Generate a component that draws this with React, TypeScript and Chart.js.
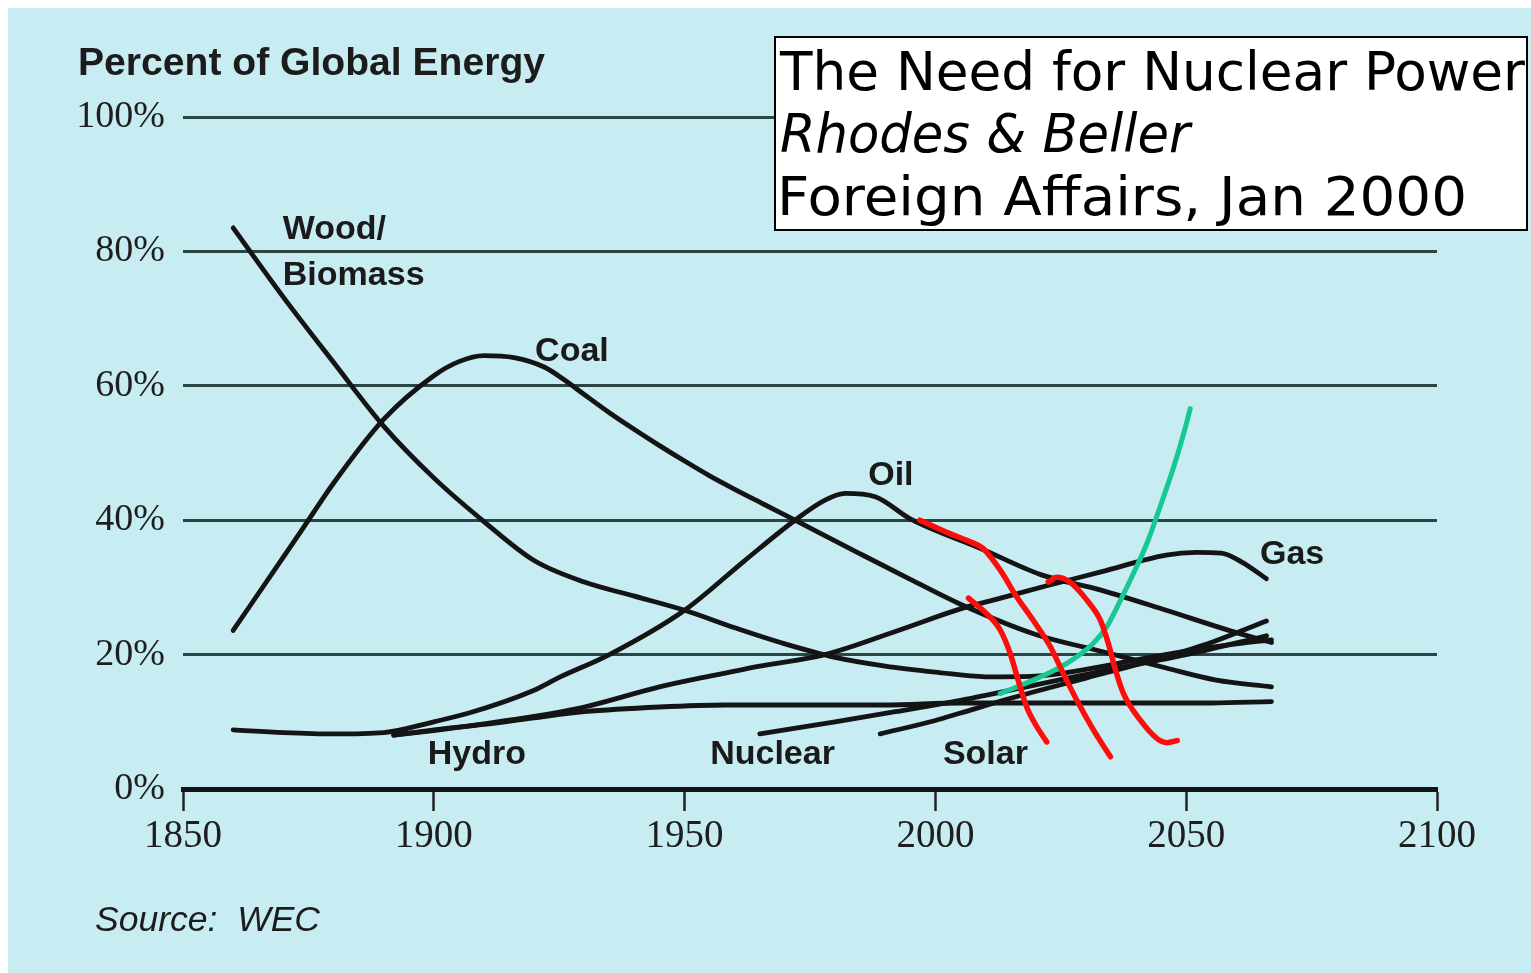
import React, { useEffect, useRef } from 'react';
import { Chart, registerables } from 'chart.js';

Chart.register(...registerables);

// ---------- axis ticks ----------
const X_TICKS = [1850, 1900, 1950, 2000, 2050, 2100];
const Y_TICKS = [0, 20, 40, 60, 80, 100];

// ---------- series (year, percent of global energy) ----------
const WOOD_YEARS = [1860, 1870, 1880, 1890, 1900, 1910, 1920, 1930, 1940, 1950, 1960, 1970, 1980, 1990, 2000, 2010, 2020, 2030, 2040, 2050, 2060, 2067];
const WOOD_PCT = [83.5, 73.2, 63.5, 54, 46.3, 39.8, 34, 30.8, 28.7, 26.6, 24, 21.6, 19.6, 18.3, 17.4, 16.7, 16.8, 17.8, 19.2, 20.5, 21.6, 22.2];

const COAL_YEARS = [1860, 1870, 1875, 1880, 1890, 1900, 1905, 1910, 1916, 1922, 1926, 1930, 1935, 1940, 1945, 1950, 1955, 1960, 1966, 1972, 1985, 1995, 2005, 2020, 2033, 2046, 2056, 2067];
const COAL_PCT = [23.6, 34.5, 40, 45.5, 55, 61.5, 63.6, 64.5, 64.2, 62.8, 60.9, 58.7, 56, 53.5, 51.1, 48.8, 46.6, 44.6, 42.3, 40, 35, 31.2, 27.5, 23, 20.5, 18, 16.2, 15.2];

const OIL_YEARS = [1860, 1870, 1880, 1890, 1900, 1907, 1920, 1925, 1935, 1950, 1962, 1972, 1978, 1982, 1988, 1995, 2009, 2021, 2033, 2046, 2059, 2067];
const OIL_PCT = [8.8, 8.4, 8.2, 8.4, 10, 11.3, 14.7, 16.6, 20, 26.6, 34, 40, 43, 44, 43.5, 40.2, 35.8, 31.9, 29.6, 26.6, 23.5, 21.8];

const GAS_YEARS = [1892, 1900, 1910, 1920, 1930, 1945, 1955, 1965, 1978, 1993, 2005, 2013, 2022, 2033, 2046, 2052, 2057, 2061, 2066];
const GAS_PCT = [8, 8.7, 9.7, 10.8, 12.2, 15.2, 16.8, 18.3, 20, 23.7, 26.8, 28.4, 30.2, 32.3, 34.8, 35.2, 35.1, 33.8, 31.3];

const HYDRO_YEARS = [1892, 1900, 1910, 1920, 1930, 1945, 1958, 1990, 2005, 2030, 2055, 2067];
const HYDRO_PCT = [8, 8.8, 9.6, 10.6, 11.5, 12.2, 12.5, 12.5, 12.8, 12.8, 12.8, 13];

const NUCLEAR_YEARS = [1965, 1980, 1992, 2005, 2020, 2035, 2050, 2066];
const NUCLEAR_PCT = [8.2, 10, 11.5, 13.2, 15.5, 17.8, 20, 22.8];

const SOLAR_YEARS = [1989, 2000, 2005, 2015, 2030, 2045, 2055, 2066];
const SOLAR_PCT = [8.2, 10.2, 11.3, 13.5, 16.5, 19.5, 21.8, 25];

// ---------- hand-drawn annotations ----------
const RED1_YEARS = [1996.9, 2002.9, 2006.9, 2009.5, 2012.9, 2016.2, 2019.5, 2022.9, 2025.5, 2028.2, 2031.5, 2034.9];
const RED1_PCT = [40.0, 38.0, 36.8, 35.8, 32.6, 28.6, 25.1, 21.2, 17.2, 13.2, 8.8, 4.8];

const RED2_YEARS = [2006.6, 2010.2, 2012.9, 2014.9, 2016.5, 2018.2, 2020.2, 2022.2];
const RED2_PCT = [28.4, 26.1, 23.7, 20.2, 16.2, 12.2, 9.3, 7.0];

const RED3_YEARS = [2022.5, 2024.2, 2026.8, 2030.2, 2032.9, 2034.5, 2035.9, 2037.5, 2040.9, 2044.2, 2046.2, 2048.2];
const RED3_PCT = [30.8, 31.5, 30.8, 28.1, 25.1, 21.6, 17.7, 14.2, 10.2, 7.5, 6.9, 7.2];

const GREEN_YEARS = [2012.9, 2019.5, 2026.2, 2031.5, 2034.2, 2036.9, 2039.5, 2042.2, 2044.8, 2047.5, 2049.5, 2050.8];
const GREEN_PCT = [14.2, 16.2, 18.7, 21.7, 24.2, 28.1, 32.1, 36.6, 42.0, 47.9, 52.9, 56.6];

// ---------- in-plot labels (anchored in data space) ----------
const LABEL_TEXT = ['Wood/', 'Biomass', 'Coal', 'Oil', 'Gas', 'Hydro', 'Nuclear', 'Solar'];
const LABEL_YEAR = [1869.9, 1869.9, 1920.2, 1986.6, 2064.7, 1898.8, 1955.1, 2001.5];
const LABEL_PCT = [81.8, 75.0, 63.7, 45.2, 33.5, 3.7, 3.7, 3.7];

const TITLE = 'Percent of Global Energy';
const SOURCE = 'Source:  WEC';
const BOX_LINES = ['The Need for Nuclear Power', 'Rhodes & Beller', 'Foreign Affairs, Jan 2000'];

const BG = '#c7ecf1';
const INK = '#141414';

const pts = (xs: number[], ys: number[]) => xs.map((x, i) => ({ x, y: ys[i] }));

function fitText(ctx: CanvasRenderingContext2D, text: string, x: number, y: number, font: string, targetW: number) {
  ctx.save();
  ctx.font = font;
  const w = ctx.measureText(text).width;
  const s = targetW / w;
  ctx.translate(x, y);
  ctx.scale(s, 1);
  ctx.fillText(text, 0, 0);
  ctx.restore();
}

const decor = {
  id: 'decor',
  beforeDraw(chart: any) {
    const ctx = chart.ctx as CanvasRenderingContext2D;
    ctx.save();
    ctx.fillStyle = BG;
    ctx.fillRect(0, 0, chart.width, chart.height);
    ctx.restore();
  },
  afterDatasetsDraw(chart: any) {
    const ctx = chart.ctx as CanvasRenderingContext2D;
    const xs = chart.scales.x;
    const ys = chart.scales.y;
    ctx.save();
    ctx.fillStyle = '#1a1a1a';
    ctx.textBaseline = 'alphabetic';
    ctx.textAlign = 'left';
    ctx.font = 'bold 34px "Liberation Sans", Arial, sans-serif';
    LABEL_TEXT.forEach((t, i) => {
      ctx.fillText(t, xs.getPixelForValue(LABEL_YEAR[i]), ys.getPixelForValue(LABEL_PCT[i]));
    });
    ctx.restore();
  },
  afterDraw(chart: any) {
    const ctx = chart.ctx as CanvasRenderingContext2D;
    ctx.save();
    ctx.fillStyle = '#1c1c1c';
    ctx.textBaseline = 'alphabetic';
    ctx.textAlign = 'left';
    fitText(ctx, TITLE, 70, 67, 'bold 38px "Liberation Sans", Arial, sans-serif', 467);
    fitText(ctx, SOURCE, 87, 923, 'italic 35px "Liberation Sans", Arial, sans-serif', 225);

    // citation box
    ctx.fillStyle = '#ffffff';
    ctx.fillRect(767, 29, 752, 193);
    ctx.strokeStyle = '#000000';
    ctx.lineWidth = 2;
    ctx.strokeRect(767, 29, 752, 193);
    ctx.fillStyle = '#000000';
    fitText(ctx, BOX_LINES[0], 772, 82, '500 54px "DejaVu Sans", sans-serif', 745);
    fitText(ctx, BOX_LINES[1], 772, 144, 'italic 500 54px "DejaVu Sans", sans-serif', 410);
    fitText(ctx, BOX_LINES[2], 769, 207, '500 54px "DejaVu Sans", sans-serif', 690);
    ctx.restore();
  },
};

const blackLine = (label: string, xs: number[], ys: number[]) => ({
  label,
  data: pts(xs, ys),
  borderColor: INK,
  borderWidth: 4.8,
  cubicInterpolationMode: 'monotone' as const,
  pointRadius: 0,
  order: 2,
});

const markLine = (label: string, xs: number[], ys: number[], color: string, width: number) => ({
  label,
  data: pts(xs, ys),
  borderColor: color,
  borderWidth: width,
  cubicInterpolationMode: 'monotone' as const,
  pointRadius: 0,
  order: 1,
});

export default function App() {
  const canvasRef = useRef<HTMLCanvasElement | null>(null);

  useEffect(() => {
    const canvas = canvasRef.current;
    if (!canvas) return;
    const chart = new Chart(canvas, {
      type: 'line',
      data: {
        datasets: [
          blackLine('Wood/Biomass', WOOD_YEARS, WOOD_PCT),
          blackLine('Coal', COAL_YEARS, COAL_PCT),
          blackLine('Oil', OIL_YEARS, OIL_PCT),
          blackLine('Gas', GAS_YEARS, GAS_PCT),
          blackLine('Hydro', HYDRO_YEARS, HYDRO_PCT),
          blackLine('Nuclear', NUCLEAR_YEARS, NUCLEAR_PCT),
          blackLine('Solar', SOLAR_YEARS, SOLAR_PCT),
          markLine('Red 1', RED1_YEARS, RED1_PCT, '#ff0d0d', 5.5),
          markLine('Red 2', RED2_YEARS, RED2_PCT, '#ff0d0d', 5.5),
          markLine('Red 3', RED3_YEARS, RED3_PCT, '#ff0d0d', 5.5),
          markLine('Green', GREEN_YEARS, GREEN_PCT, '#17c894', 5),
        ] as any,
      },
      options: {
        responsive: false,
        animation: false,
        layout: { padding: { top: 109, right: 94, bottom: 0, left: 0 } },
        elements: {
          point: { radius: 0 },
          line: { borderCapStyle: 'round', borderJoinStyle: 'round' },
        },
        plugins: {
          legend: { display: false },
          tooltip: { enabled: false },
          title: { display: false },
        },
        scales: {
          x: {
            type: 'linear',
            min: 1850,
            max: 2100,
            afterBuildTicks: (s: any) => {
              s.ticks = X_TICKS.map((v) => ({ value: v }));
            },
            afterFit: (s: any) => {
              s.height = 184;
            },
            grid: {
              drawOnChartArea: false,
              drawTicks: true,
              tickLength: 22,
              tickWidth: 2.5,
              tickColor: '#222222',
            },
            border: { display: true, color: '#141414', width: 5 },
            ticks: {
              autoSkip: false,
              maxRotation: 0,
              padding: 2,
              color: '#1e1e1e',
              font: { family: '"Liberation Serif", "Times New Roman", serif', size: 39 },
              callback: (v: any) => String(v),
            },
          },
          y: {
            type: 'linear',
            min: 0,
            max: 100,
            afterBuildTicks: (s: any) => {
              s.ticks = Y_TICKS.map((v) => ({ value: v }));
            },
            afterFit: (s: any) => {
              s.width = 175;
            },
            grid: {
              drawTicks: false,
              lineWidth: 3,
              color: (c: any) => (c.tick && c.tick.value === 0 ? 'rgba(0,0,0,0)' : '#2a4542'),
            },
            border: { display: false },
            ticks: {
              padding: 18,
              color: '#1e1e1e',
              font: { family: '"Liberation Serif", "Times New Roman", serif', size: 38 },
              callback: (v: any) => `${v}%`,
            },
          },
        },
      } as any,
      plugins: [decor],
    });
    return () => chart.destroy();
  }, []);

  return (
    <div style={{ position: 'fixed', left: 8, top: 8, width: 1523, height: 965 }}>
      <canvas ref={canvasRef} width={1523} height={965} style={{ display: 'block' }} />
    </div>
  );
}
